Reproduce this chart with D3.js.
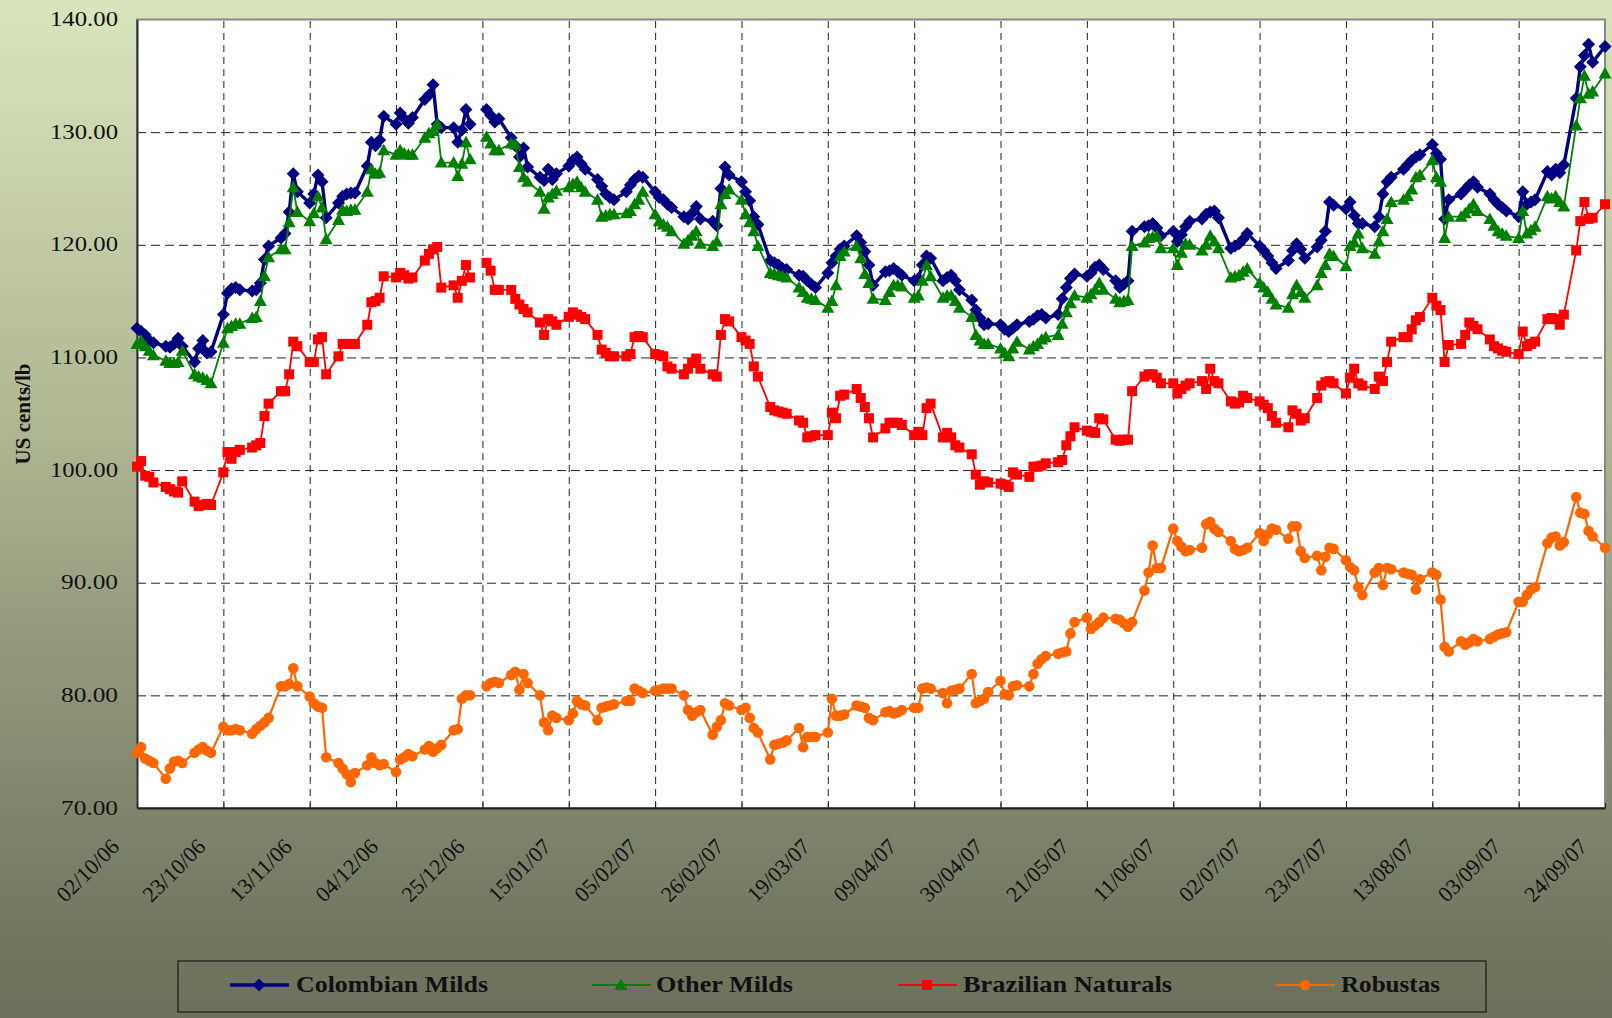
<!DOCTYPE html>
<html>
<head>
<meta charset="utf-8">
<script src="https://cdn.jsdelivr.net/npm/d3@7/dist/d3.min.js"></script>
<style>
  body { margin: 0; background: #6c705c; }
  svg { display: block; }
</style>
</head>
<body>
<div id="plot"></div>
<script>
// axis ticks (every third Monday)
var tickLabels = ["02/10/06", "23/10/06", "13/11/06", "04/12/06", "25/12/06", "15/01/07",
  "05/02/07", "26/02/07", "19/03/07", "09/04/07", "30/04/07", "21/05/07",
  "11/06/07", "02/07/07", "23/07/07", "13/08/07", "03/09/07", "24/09/07"];
var yTicks = [70, 80, 90, 100, 110, 120, 130, 140];

// one value per business day, 02/10/06 .. 24/09/07 (null = no quote)
var colombianMilds = [
  112.6, 112.3, 112.0, 111.5, 111.3,  111.0, 110.9, 111.2, 111.7, 111.0,
  109.6, 110.8, 111.5, 110.4, 110.5,  113.8, 115.7, 116.1, 116.2, 116.0,
  115.9, 116.0, 116.6, 118.7, 119.9,  120.6, 121.0, 122.9, 126.3, 124.7,
  123.7, 124.5, 126.2, 125.6, 122.4,  123.7, 124.3, 124.5, 124.6, 124.6,
  127.0, 129.1, 128.8, 129.3, 131.4,  130.7, 131.7, 131.2, 130.8, 131.3,
  132.9, 133.3, 134.2, 130.7, 130.4,  130.4, 129.1, 130.2, 132.0, 130.7,
  null, 132.0, 131.5, 130.9, 131.2,   129.5, 128.8, 127.8, 128.6, 126.9,
  126.0, 125.7, 126.7, 125.8, 126.3,  127.0, 127.5, 127.8, 127.2, 126.7,
  125.8, 125.2, 124.5, 124.2, 124.0,  124.7, 125.3, 125.8, 126.1, 126.0,
  124.7, 124.2, 124.0, 123.6, 123.3,  122.5, 122.3, 122.8, 123.4, 122.3,
  122.1, 121.7, 125.0, 126.9, 126.2,  125.6, 124.7, 123.9, 122.5, 121.8,
  118.6, 118.4, 118.2, 117.9, 117.8,  117.3, 117.2, 116.8, 116.5, 116.2,
  117.5, 118.4, 119.0, 119.6, 119.9,  120.8, 120.2, 119.4, 118.2, 116.4,
  117.6, 117.7, 117.9, 117.6, 117.3,  116.8, 117.0, 118.2, 119.0, 118.8,
  116.8, 117.1, 117.3, 116.8, 116.0,  115.1, 114.2, 113.5, 112.9, 113.0,
  112.9, 112.5, 112.3, 112.6, 112.9,  113.2, 113.4, 113.7, 113.8, 113.5,
  113.8, 115.2, 116.2, 117.0, 117.4,  117.2, 117.5, 118.0, 118.2, 117.8,
  116.8, 116.2, 116.5, 116.8, 121.2,  121.6, 121.7, 121.9, 121.5, 120.8,
  121.2, 120.3, 120.9, 121.6, 122.1,  122.3, 122.7, 122.9, 123.0, 122.4,
  119.7, 119.9, 120.1, 120.5, 121.0,  119.9, 119.5, 119.0, 118.4, 117.9,
  118.6, 119.5, 120.1, 119.6, 118.8,  119.8, 120.4, 121.2, 123.8, 123.5,
  123.2, 123.8, 122.6, 121.9, 121.9,  121.6, 122.5, 124.5, 125.6, 126.0,
  126.7, 127.1, 127.5, 127.8, 128.0,  128.9, 128.1, 127.6, 122.3, 124.0,
  124.5, 124.9, 125.3, 125.6, 125.1,  124.5, 124.0, 123.6, 123.3, 123.0,
  122.5, 124.7, 123.6, 123.8, 124.0,  126.5, 126.2, 126.7, 126.4, 127.1,
  133.0, 135.8, 136.8, 137.8, 136.2,  137.6
];
var otherMilds = [
  111.2, 111.5, 111.0, 110.6, 110.2,  109.7, 109.5, 109.5, 109.6, 110.6,
  108.5, 108.3, 108.2, 108.0, 107.7,  111.3, 112.6, 112.8, 113.0, 113.0,
  113.5, 113.6, 115.0, 117.2, 118.9,  119.6, 119.6, 122.0, 125.1, 122.9,
  122.1, 122.8, 124.3, 123.3, 120.5,  122.2, 123.1, 123.0, 123.1, 123.1,
  124.7, 126.7, 126.3, 126.4, 128.4,  128.0, 128.4, 128.1, 128.0, 128.0,
  129.5, 129.9, 130.1, 130.7, 127.3,  127.3, 126.1, 127.2, 129.1, 127.6,
  null, 129.6, 129.0, 128.4, 128.4,   129.0, 128.9, 126.9, 126.0, 125.6,
  124.7, 123.2, 124.2, 124.5, 124.8,  125.1, 125.4, 125.6, 125.1, 124.7,
  124.0, 122.5, 122.6, 122.7, 122.7,  122.8, 123.0, 123.6, 124.0, 124.7,
  122.7, 122.1, 121.8, 121.6, 121.2,  120.1, 120.4, 120.8, 121.2, 120.1,
  119.9, 120.3, 123.6, 124.5, 124.9,  124.0, 122.7, 122.0, 121.2, 119.9,
  117.5, 117.4, 117.3, 117.2, 117.1,  116.2, 115.8, 115.3, 115.2, 115.1,
  114.4, 115.0, 116.4, 119.0, 119.4,  119.9, 118.8, 117.4, 116.6, 115.2,
  115.1, 115.8, 116.4, 116.4, 116.3,  115.3, 115.5, 116.8, 118.2, 117.2,
  115.3, 115.5, 115.5, 115.0, 114.4,  113.6, 112.0, 111.5, 111.2, 111.2,
  110.8, 110.4, 110.1, 110.8, 111.4,  110.7, 111.0, 111.2, 111.6, 111.8,
  112.0, 113.0, 114.0, 114.8, 115.5,  115.3, 115.6, 116.0, 116.6, 116.0,
  115.2, 114.9, 115.0, 115.1, 119.9,  120.2, 120.6, 120.7, 120.8, 119.7,
  119.7, 118.2, 119.3, 120.1, 120.0,  119.5, 120.0, 120.8, 120.3, 119.7,
  117.1, 117.2, 117.3, 117.6, 117.9,  116.6, 116.2, 115.8, 115.2, 114.7,
  114.4, 115.6, 116.4, 115.8, 115.3,  116.4, 117.5, 118.2, 119.2, 119.0,
  118.1, 119.9, 120.2, 121.0, 119.7,  119.2, 120.3, 121.2, 122.3, 123.8,
  124.0, 124.3, 124.9, 126.0, 126.2,  127.5, 126.0, 125.6, 120.6, 122.5,
  122.5, 122.8, 123.2, 123.6, 123.0,  122.3, 121.7, 121.2, 121.0, 120.8,
  120.6, 123.0, 121.0, 121.3, 121.6,  124.3, 124.1, 124.3, 123.8, 123.4,
  130.6, 133.0, 135.0, 133.4, 133.6,  135.2
];
var brazilianNaturals = [
  100.3, 100.8, 99.5, 99.4, 98.9,     98.5, 98.3, 98.1, 98.0, 99.0,
  97.2, 96.8, 96.9, 97.0, 96.9,       99.8, 101.6, 101.0, 101.6, 101.8,
  102.0, 102.2, 102.4, 104.8, 105.9,  107.0, 107.0, 108.5, 111.4, 111.0,
  109.6, 109.6, 111.6, 111.8, 108.5,  110.1, 111.2, 111.2, 111.2, 111.2,
  112.9, 114.9, 115.0, 115.3, 117.2,  117.1, 117.5, 117.3, 117.0, 117.1,
  118.6, 119.2, 119.6, 119.8, 116.2,  116.4, 115.3, 116.8, 118.2, 117.1,
  null, 118.4, 117.7, 116.0, 116.0,   116.0, 115.2, 114.7, 114.3, 114.0,
  113.1, 112.0, 113.4, 113.2, 112.9,  113.6, 114.0, 113.8, 113.6, 113.4,
  112.0, 110.7, 110.4, 110.1, 110.1,  110.1, 110.3, 111.8, 111.9, 111.8,
  110.3, 110.2, 110.1, 109.2, 109.0,  108.5, 109.0, 109.5, 109.9, 109.0,
  108.5, 108.3, 112.0, 113.4, 113.2,  111.8, 111.5, 111.2, 109.2, 108.3,
  105.6, 105.3, 105.2, 105.1, 105.0,  104.4, 104.2, 102.9, 103.0, 103.1,
  103.1, 105.1, 104.6, 106.6, 106.7,  107.2, 106.4, 105.6, 104.6, 102.9,
  103.7, 104.2, 104.2, 104.2, 104.0,  103.1, 103.4, 103.1, 105.5, 105.9,
  102.9, 103.3, 102.9, 102.2, 102.0,  101.4, 99.6, 98.7, 99.0, 98.9,
  98.8, 98.7, 98.5, 99.8, 99.6,       99.4, 100.3, 100.3, 100.4, 100.6,
  100.7, 100.9, 102.2, 103.0, 103.8,  103.5, 103.4, 103.3, 104.6, 104.5,
  102.7, 102.6, 102.7, 102.7, 107.0,  108.3, 108.5, 108.5, 108.2, 107.7,
  107.7, 106.8, 107.2, 107.5, 107.7,  107.9, 107.2, 109.0, 107.9, 107.7,
  106.1, 105.9, 106.0, 106.6, 106.4,  106.1, 105.8, 105.5, 104.8, 104.2,
  103.8, 105.3, 105.0, 104.4, 104.6,  106.4, 107.5, 107.8, 107.9, 107.7,
  106.8, 108.2, 109.0, 107.7, 107.5,  107.2, 108.3, 107.9, 109.6, 111.4,
  111.8, 111.8, 112.5, 113.3, 113.6,  115.3, 114.6, 114.2, 109.6, 111.1,
  111.2, 112.0, 113.1, 112.8, 112.5,  111.6, 111.0, 110.8, 110.6, 110.5,
  110.3, 112.3, 111.0, 111.2, 111.4,  113.4, 113.5, 113.4, 112.9, 113.8,
  119.5, 122.1, 123.8, 122.3, 122.4,  123.6
];
var robustas = [
  74.9, 75.4, 74.4, 74.2, 74.0,  72.6, 73.5, 74.1, 74.2, 74.0,
  74.9, 75.2, 75.4, 75.1, 74.9,  77.2, 76.9, 76.9, 77.0, 76.9,
  76.6, 77.0, 77.3, 77.6, 78.0,  80.8, 80.8, 81.0, 82.4, 80.8,
  79.9, 79.3, 79.0, 78.9, 74.5,  74.0, 73.5, 73.0, 72.3, 73.1,
  73.8, 74.5, 74.0, 73.8, 73.9,  73.2, 74.3, 74.5, 74.8, 74.6,
  75.2, 75.5, 75.0, 75.3, 75.6,  76.9, 77.0, 79.7, 80.0, 80.0,
  null, 80.8, 81.1, 81.2, 81.1,  81.8, 82.1, 80.5, 81.9, 81.1,
  80.0, 77.6, 76.9, 78.2, 78.0,  77.8, 78.4, 79.5, 79.2, 79.1,
  77.8, 78.9, 79.0, 79.1, 79.2,  79.5, 79.5, 80.6, 80.4, 80.2,
  80.4, 80.5, 80.6, 80.6, 80.6,  80.0, 78.7, 78.2, 78.5, 78.7,
  76.5, 77.2, 77.8, 79.3, 79.1,  78.7, 78.9, 78.0, 77.1, 76.7,
  74.3, 75.6, 75.7, 75.8, 76.0,  77.1, 75.4, 76.3, 76.3, 76.3,
  76.7, 79.7, 78.2, 78.2, 78.3,  79.1, 79.0, 78.9, 78.0, 77.8,
  78.5, 78.6, 78.4, 78.5, 78.7,  78.9, 78.9, 80.6, 80.7, 80.6,
  80.2, 79.3, 80.4, 80.5, 80.6,  81.9, 79.3, 79.5, 79.7, 80.3,
  81.3, 80.1, 80.0, 80.8, 80.9,  80.8, 81.9, 82.8, 83.2, 83.5,
  83.7, 83.8, 83.9, 85.5, 86.5,  86.9, 85.9, 86.2, 86.5, 86.9,
  86.8, 86.7, 86.4, 86.1, 86.5,  89.3, 90.9, 93.3, 91.3, 91.3,
  94.8, 93.7, 93.2, 92.8, 92.9,  93.1, 95.2, 95.4, 94.8, 94.5,
  93.7, 93.0, 92.8, 92.9, 93.1,  94.4, 93.7, 94.3, 94.8, 94.7,
  93.9, 95.0, 95.0, 92.8, 92.2,  92.4, 91.1, 92.3, 93.1, 93.0,
  92.0, 91.4, 91.1, 89.6, 88.9,  90.9, 91.3, 89.8, 91.3, 91.2,
  90.9, 90.8, 90.7, 89.4, 90.3,  90.9, 90.7, 88.5, 84.3, 83.9,
  84.8, 84.5, 84.7, 85.0, 84.8,  85.0, 85.2, 85.4, 85.5, 85.6,
  88.3, 88.3, 88.9, 89.4, 89.6,  93.5, 94.0, 94.1, 93.3, 93.6,
  97.6, 96.2, 96.1, 94.6, 94.1,  93.1
];

var seriesNames = ["Colombian Milds", "Other Milds", "Brazilian Naturals", "Robustas"];

//Figure size and plot area
var W = 1612, H = 1018;
var margin = { top: 19.5, right: 7, bottom: 210, left: 137 },
    width = W - margin.left - margin.right,
    height = H - margin.top - margin.bottom;

var serif = "'Liberation Serif', 'Times New Roman', serif";
var parseTick = d3.timeParse("%d/%m/%y");
var tickDates = tickLabels.map(parseTick);

// business days between first and last tick
var days = d3.timeDay.range(tickDates[0], d3.timeDay.offset(tickDates[tickDates.length - 1], 1))
    .filter(function(d) { return d.getDay() > 0 && d.getDay() < 6; });

var series = [
  { name: seriesNames[0], values: colombianMilds, color: "#000080", width: 3.4, shape: "diamond" },
  { name: seriesNames[1], values: otherMilds, color: "#008000", width: 1.8, shape: "triangle" },
  { name: seriesNames[2], values: brazilianNaturals, color: "#ff0000", width: 1.8, shape: "square" },
  { name: seriesNames[3], values: robustas, color: "#ff6600", width: 2.2, shape: "circle" }
];
series.forEach(function(s) {
  s.points = days.map(function(d, i) { return { date: d, v: s.values[i] == null ? null : s.values[i] }; });
});

var svg = d3.select("#plot").append("svg")
    .attr("width", W)
    .attr("height", H);

//Background gradient
var grad = svg.append("defs").append("linearGradient")
    .attr("id", "bg")
    .attr("x1", 0).attr("y1", 0).attr("x2", 0).attr("y2", 1);
grad.append("stop").attr("offset", "0%").attr("stop-color", "#d9e5bc");
grad.append("stop").attr("offset", "40%").attr("stop-color", "#b1b894");
grad.append("stop").attr("offset", "78%").attr("stop-color", "#81866f");
grad.append("stop").attr("offset", "100%").attr("stop-color", "#6b6f5b");

svg.append("rect")
    .attr("width", W).attr("height", H)
    .attr("fill", "url(#bg)");

var xScale = d3.scaleTime().domain([tickDates[0], tickDates[tickDates.length - 1]]).range([0, width]),
    yScale = d3.scaleLinear().domain([70, 140]).range([height, 0]);

var focus = svg.append("g")
    .attr("transform", "translate(" + margin.left + "," + margin.top + ")");

focus.append("rect")
    .attr("width", width).attr("height", height)
    .attr("fill", "#ffffff");

//Grid lines
focus.append("g")
    .attr("class", "grid-y")
    .call(d3.axisLeft(yScale).tickValues(yTicks.slice(1, -1)).tickSize(-width).tickFormat(""))
    .call(function(g) {
      g.select(".domain").remove();
      g.selectAll("line").attr("stroke", "#222").attr("stroke-dasharray", "9,5").attr("stroke-width", 1);
    });

focus.append("g")
    .attr("class", "grid-x")
    .attr("transform", "translate(0," + height + ")")
    .call(d3.axisBottom(xScale).tickValues(tickDates.slice(1, -1)).tickSize(-height).tickFormat(""))
    .call(function(g) {
      g.select(".domain").remove();
      g.selectAll("line").attr("stroke", "#222").attr("stroke-dasharray", "7,5").attr("stroke-width", 1);
    });

//Plot border: grey top/right, dark axes
focus.append("rect")
    .attr("width", width).attr("height", height)
    .attr("fill", "none")
    .attr("stroke", "#888")
    .attr("stroke-width", 2);

var yAxis = focus.append("g")
    .attr("class", "axis axis--y")
    .call(d3.axisLeft(yScale).tickValues(yTicks).tickFormat(d3.format(".2f")).tickSize(0).tickPadding(19));
yAxis.select(".domain").attr("stroke", "#303030").attr("stroke-width", 2);
yAxis.selectAll("text")
    .attr("dy", "0.28em")
    .style("font-family", serif)
    .style("font-size", "22px")
    .attr("fill", "#111")
    .attr("textLength", 68)
    .attr("lengthAdjust", "spacingAndGlyphs");
yAxis.selectAll("text").filter(function(d) { return d < 100; }).attr("textLength", 57);

var xAxis = focus.append("g")
    .attr("class", "axis axis--x")
    .attr("transform", "translate(0," + height + ")")
    .call(d3.axisBottom(xScale).tickValues(tickDates).tickFormat(d3.timeFormat("%d/%m/%y")).tickSizeInner(-5).tickSizeOuter(0));
xAxis.select(".domain").attr("stroke", "#202020").attr("stroke-width", 2);
xAxis.selectAll(".tick line").attr("stroke", "#202020");
xAxis.selectAll("text")
    .attr("x", 0).attr("y", 0).attr("dy", 0)
    .attr("transform", "translate(-17,40) rotate(-45)")
    .style("text-anchor", "end")
    .style("font-family", serif)
    .style("font-size", "22px")
    .attr("fill", "#111");

//Y label
svg.append("text")
    .attr("transform", "translate(30,414) rotate(-90)")
    .attr("text-anchor", "middle")
    .style("font-family", serif)
    .style("font-weight", "bold")
    .style("font-size", "21px")
    .attr("fill", "#111")
    .text("US cents/lb");

//Markers
function drawMarker(sel, shape, color) {
  if (shape === "diamond") {
    sel.append("path").attr("d", "M0,-6.5L6.5,0L0,6.5L-6.5,0Z").attr("fill", color);
  } else if (shape === "triangle") {
    sel.append("path").attr("d", "M0,-6.5L6.5,5L-6.5,5Z").attr("fill", color);
  } else if (shape === "square") {
    sel.append("rect").attr("x", -5).attr("y", -5).attr("width", 10).attr("height", 10).attr("fill", color);
  } else {
    sel.append("circle").attr("r", 5.3).attr("fill", color);
  }
}

var line = d3.line()
    .defined(function(d) { return d.v != null; })
    .x(function(d) { return xScale(d.date); })
    .y(function(d) { return yScale(d.v); });

series.forEach(function(s) {
  var g = focus.append("g").attr("class", "series");
  g.append("path")
      .datum(s.points)
      .attr("fill", "none")
      .attr("stroke", s.color)
      .attr("stroke-width", s.width)
      .attr("stroke-linejoin", "round")
      .attr("d", line);
  g.selectAll("g.mk")
      .data(s.points.filter(function(d) { return d.v != null; }))
      .enter().append("g")
      .attr("class", "mk")
      .attr("transform", function(d) { return "translate(" + xScale(d.date) + "," + yScale(d.v) + ")"; })
      .each(function() { drawMarker(d3.select(this), s.shape, s.color); });
});

//Legend
var legendPos = [
  { lx: 230, tx: 296, tw: 192 },
  { lx: 592, tx: 656, tw: 137 },
  { lx: 898, tx: 963, tw: 209 },
  { lx: 1276, tx: 1341, tw: 99 }
];
var legend = svg.append("g").attr("class", "legend");
legend.append("rect")
    .attr("x", 178).attr("y", 961)
    .attr("width", 1308).attr("height", 51)
    .attr("fill", "none")
    .attr("stroke", "#1a1a1a")
    .attr("stroke-width", 1.2);

series.forEach(function(s, i) {
  var p = legendPos[i];
  var item = legend.append("g");
  item.append("line")
      .attr("x1", p.lx).attr("x2", p.lx + 59)
      .attr("y1", 985).attr("y2", 985)
      .attr("stroke", s.color)
      .attr("stroke-width", s.width);
  drawMarker(item.append("g").attr("transform", "translate(" + (p.lx + 29) + ",985)"), s.shape, s.color);
  item.append("text")
      .attr("x", p.tx).attr("y", 992)
      .style("font-family", serif)
      .style("font-weight", "bold")
      .style("font-size", "24px")
      .attr("fill", "#111")
      .attr("textLength", p.tw)
      .attr("lengthAdjust", "spacingAndGlyphs")
      .text(s.name);
});
</script>
</body>
</html>
